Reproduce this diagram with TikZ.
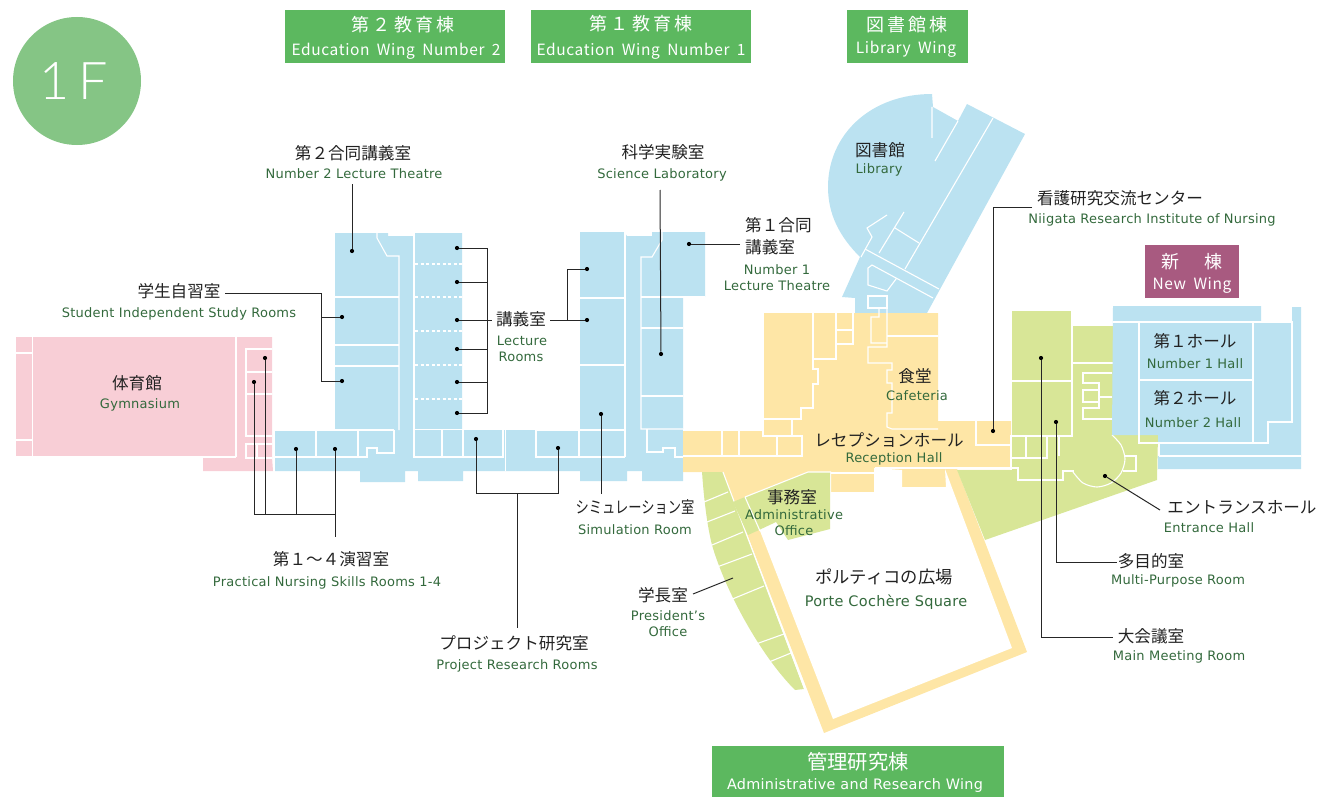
\documentclass[tikz,border=0pt]{standalone}
\usepackage{fontspec}
\setmainfont{DejaVu Sans}
\newfontfamily\jpf{Noto Sans CJK JP}
\newfontfamily\jpsp{Noto Sans CJK JP}[LetterSpace=17]
\newfontfamily\henf{Noto Sans CJK JP}[LetterSpace=4,WordSpace=1.8]
\newfontfamily\enf{DejaVu Sans}[LetterSpace=2]
\newfontfamily\lightf{Lato Light}
\definecolor{fblue}{HTML}{BBE2F1}
\definecolor{fpink}{HTML}{F8CED6}
\definecolor{fyel}{HTML}{FEE6A6}
\definecolor{fgrn}{HTML}{D8E697}
\definecolor{hgrn}{HTML}{5CB85F}
\definecolor{cgrn}{HTML}{85C585}
\definecolor{hpur}{HTML}{A85A80}
\definecolor{etxt}{HTML}{33693C}
\definecolor{jtxt}{HTML}{222222}
\tikzset{
  wl/.style={draw=white,line width=1.1pt,line join=miter},
  wd/.style={draw=white,line width=1.1pt,dash pattern=on 3pt off 2.5pt},
  lead/.style={draw=black!85,line width=1pt},
  dotmark/.style={circle,fill=black,inner sep=0pt,minimum size=4.2pt},
  jp/.style={inner sep=0pt,text=jtxt,font=\jpf\fontsize{16.6}{19}\selectfont},
  en/.style={inner sep=0pt,text=etxt,yshift=-1pt,font=\enf\fontsize{13}{16}\selectfont},
  hbox/.style={fill=hgrn,draw=none},
  hj/.style={inner sep=0pt,text=white,font=\jpsp\fontsize{18}{22}\selectfont},
  he/.style={inner sep=0pt,text=white,yshift=-2.5pt,font=\henf\fontsize{15.5}{18}\selectfont},
}
\begin{document}
\begin{tikzpicture}[x=1pt,y=-1pt]
\useasboundingbox (0,0) rectangle (1319,797);
% ---- heading boxes
\fill[cgrn] (77,81) circle[radius=64];
\node[inner sep=0pt,text=white,font=\lightf\fontsize{52}{54}\selectfont] (floorname) at (74,81) {1\hspace{9pt}F};
\fill[hbox] (285,10) rectangle (505,63);
\fill[hbox] (531,10) rectangle (751,63);
\fill[hbox] (847,10) rectangle (968,63);
\fill[hbox] (712,746) rectangle (1004,797);
\fill[hpur] (1145,245) rectangle (1239,298);
\node[hj] (h2j) at (403,25) {第２教育棟};
\node[he] (h2e) at (396,49) {Education Wing Number 2};
\node[hj] (h1j) at (641,24) {第１教育棟};
\node[he] (h1e) at (641,49) {Education Wing Number 1};
\node[hj] (hlj) at (907,25) {図書館棟};
\node[he] (hle) at (906,47) {Library Wing};
\node[hj,font=\jpf\fontsize{20.3}{22}\selectfont] (haj) at (858,762) {管理研究棟};
\node[en,text=white,font=\enf\fontsize{14.4}{18}\selectfont] (hae) at (855,785) {Administrative and Research Wing};
\node[hj] (nwj) at (1192,262) {新　棟};
\node[he] (nwe) at (1192,283) {New Wing};
% ---- pink gym
\fill[fpink] (16,337) -- (272,337) -- (272,457) -- (273,471) -- (203,471) -- (203,457) -- (16,457) -- cycle;
\draw[wl] (32.5,337) -- (32.5,457);
\draw[wl] (16,353) -- (32,353) (16,440) -- (32,440);
\draw[wl] (236,337) -- (236,457) (16,457) -- (236,457);
\draw[wl] (272,349) -- (246,349) -- (246,436) -- (272,436);
\draw[wl] (246,372) -- (272,372) (246,394) -- (272,394);
\draw[wl] (272,444) -- (246,444) -- (246,458) -- (272,458) (257,444) -- (257,458);
% ---- blue education wings
\fill[fblue] (275,431) -- (335,431) -- (335,233) -- (388,233) -- (388,236) -- (415,236) -- (415,233) -- (462,233) -- (462,430) -- (580,430) -- (580,232) -- (624,232) -- (627,236) -- (652,236) -- (652,232) -- (705,232) -- (705,297) -- (683,297) -- (683,481) -- (642,481) -- (642,471) -- (627,471) -- (627,481) -- (580,481) -- (580,471) -- (463,471) -- (463,481) -- (418,481) -- (418,471) -- (405,471) -- (405,482) -- (360,482) -- (360,471) -- (275,471) -- cycle;
\draw[wl] (377,233) -- (377,238) -- (387,256) -- (399,256) -- (399,430);
\draw[wl] (335,297) -- (399,297) (335,345) -- (399,345) (335,366) -- (399,366) (335,430) -- (394,430);
\draw[wl] (414,236) -- (414,457);
\draw[wd] (415,264) -- (462,264) (415,297) -- (462,297) (415,331) -- (462,331) (415,365) -- (462,365) (415,399) -- (462,399);
\draw[wl] (414,429.5) -- (504,429.5);
\draw[wl] (316,431) -- (316,457) (358,431) -- (358,457);
\draw[wl] (275,457) -- (367,457) -- (367,448) -- (377,448) -- (377,453) -- (394,453) -- (394,430);
\draw[wl] (413,457) -- (503,457) -- (503,430) (442,430) -- (442,457) (463,430) -- (463,457);
\draw[wl,line width=.6pt] (505,430) -- (505,471);
\draw[wl] (536,430) -- (536,457) -- (625,457) (579,430) -- (579,457) (536,430) -- (625,430);
\draw[wl] (625,232) -- (625,457);
\draw[wl] (580,298) -- (625,298) (580,365) -- (625,365);
\draw[wl] (662,232) -- (662,240) -- (652,257) -- (641,257) -- (641,429) -- (683,429);
\draw[wl] (641,297) -- (705,297) (641,328) -- (683,328) (641,396) -- (683,396);
\draw[wl] (647,429) -- (647,452) -- (663,452) -- (663,448) -- (675,448) -- (675,457) -- (683,457);
% ---- library
\fill[fblue] (842,297) -- (860,257) .. controls (840,237) and (828,215) .. (828,187) .. controls (828,135) and (870,94) .. (932,94) -- (933,107) -- (958,121) -- (967,104) -- (1025,134) -- (927,313) -- (855,313) -- (855,298) -- cycle;
\draw[wl] (932,107) -- (932,138) (958,121) -- (935,161) (993,118) -- (905,269);
\draw[wl] (887,215) -- (867,228) -- (872,237) -- (861,257);
\draw[wl] (904,212) -- (879,253) (895,228) -- (919,243) (865,249) -- (939,289);
\draw[wl] (933,298) -- (872,265) -- (868,268) -- (868,285) -- (887,291) -- (896,279);
\draw[wl] (868,296) -- (887,296) -- (887,308) -- (868,308) -- cycle;
% ---- yellow core and portico frame
\fill[fyel] (683,430) -- (764,430) -- (764,313) -- (938,313) -- (938,421) -- (1011,421) -- (1011,469) -- (957,469) -- (1027,652) -- (824,733) -- (723,472) -- (683,472) -- cycle;
\fill[white] (808,472) -- (831,472) -- (831,492) -- (874,492) -- (874,474) -- (875,468) -- (902,470) -- (902,487) -- (946,487) -- (945,469) -- (1012,648) -- (833,719) -- (748,500) -- cycle;
\draw[wl] (831,473) -- (875,473) -- (875,468);
\draw[wl] (813,313) -- (813,369) -- (818,369) -- (818,384) -- (813,384) -- (813,408) -- (801,408) -- (801,419) -- (764,419);
\draw[wl] (813,359) -- (836,359) -- (836,313) (836,330) -- (853,330) (853,313) -- (853,344) -- (836,344);
\draw[wl] (879,308) -- (879,317) -- (871,317) -- (871,343) -- (887,343) (887,308) -- (887,347) -- (868,347) -- (868,363) -- (892,363) -- (892,370) -- (887,370) -- (887,383) -- (892,383) -- (892,413) -- (887,413) -- (887,427) -- (892,429) -- (938,429);
\draw[wl] (887,336) -- (938,336);
\draw[wl] (763,419) -- (763,436) -- (802,436) -- (802,456) -- (683,456) (792,419) -- (792,436);
\draw[wl] (722,430) -- (722,456) (739,430) -- (739,456) (777,436) -- (777,456) (683,430) -- (763,430);
\draw[wl] (976,421) -- (976,445) -- (1011,445);
\draw[wl] (875,468) -- (1011,468);
% ---- green wedges
\fill[fgrn] (702,472) -- (723,472) -- (804,689) -- (795,690) .. controls (760,655) and (725,590) .. (712,545) .. controls (707,525) and (704,500) .. (702,472) -- cycle;
\draw[wl] (723,472) -- (805,690);
\draw[wl] (704,502) -- (728,492) (707,522) -- (735,511) (712,545) -- (743,532) (717,567) -- (752,554) (730,600) -- (764,586) (756,644) -- (784,634) (769,662) -- (791,653);
\fill[fgrn] (733,502) -- (745,497) -- (808,472) -- (830,472) -- (830,529) -- (788,540) -- (776,522) -- (759,530) -- (748,535) -- cycle;
\draw[wl] (745,497) -- (760,531) (745,497) -- (808,472) -- (831,472);
% ---- green east part
\fill[fgrn] (1012,311) -- (1072,311) -- (1072,326) -- (1113,326) -- (1113,435) -- (1158,435) -- (1157,480) -- (985,540) -- (957,470) -- (1012,470) -- cycle;
\draw[wl] (1012,381) -- (1072,381) (1072,311) -- (1072,436) -- (1011,436) -- (1011,470);
\draw[wl] (1073,363) -- (1113,363);
\draw[wl] (1112,373) -- (1083,373) -- (1083,383) -- (1099,383) -- (1099,390) -- (1083,390) -- (1083,402) -- (1099,402) -- (1099,408) -- (1083,408) -- (1083,419) -- (1112,419);
\draw[wl] (1099,390) -- (1099,402) (1099,397) -- (1112,397);
\draw[wl] (1011,458) -- (1047,458) -- (1047,436) (1026,436) -- (1026,458) (1059,436) -- (1059,456);
\draw[wl] (1011,468) -- (1018,468) -- (1018,480) -- (1063,480) -- (1063,471) -- (1074,471);
\draw[wl] plot[smooth] coordinates {(1073,472) (1083,483) (1097,487) (1111,483) (1121,473) (1125,459) (1121,445) (1112,435)};
\draw[wl] (1125,456) -- (1136,456) -- (1136,471) -- (1123,471);
% ---- blue new wing
\fill[fblue] (1113,306) -- (1261,306) -- (1261,322) -- (1292,322) -- (1292,307) -- (1301,307) -- (1301,469) -- (1158,469) -- (1158,435) -- (1112,435) -- cycle;
\draw[wl] (1113,322) -- (1292,322) -- (1292,422) -- (1268,422) -- (1268,443) -- (1139,443) -- (1139,322);
\draw[wl] (1253,322) -- (1253,443) (1139,380) -- (1253,380) (1159,456) -- (1301,456) (1159,443) -- (1159,456);
% ---- labels
\node[jp] (t1j) at (353,153) {第２合同講義室};
\node[en] (t1e) at (354,173) {Number 2 Lecture Theatre};
\node[jp] (t2j) at (663,152) {科学実験室};
\node[en] (t2e) at (662,174) {Science Laboratory};
\node[jp,anchor=west] (t3j) at (745,225) {第１合同};
\node[jp,anchor=west] (t3k) at (745,247) {講義室};
\node[en] (t3e) at (777,269) {Number 1};
\node[en] (t3f) at (777,285) {Lecture Theatre};
\node[jp] (t4j) at (880,150) {図書館};
\node[en] (t4e) at (879,169) {Library};
\node[jp] (t5j) at (1120,198) {看護研究交流センター};
\node[en] (t5e) at (1152,219) {Niigata Research Institute of Nursing};
\node[jp] (t6j) at (1195,341) {第１ホール};
\node[en] (t6e) at (1195,363) {Number 1 Hall};
\node[jp] (t7j) at (1195,398) {第２ホール};
\node[en] (t7e) at (1193,422) {Number 2 Hall};
\node[jp] (t8j) at (179,291) {学生自習室};
\node[en] (t8e) at (179,313) {Student Independent Study Rooms};
\node[jp] (t9j) at (137,383) {体育館};
\node[en] (t9e) at (140,404) {Gymnasium};
\node[jp] (t10j) at (521,319) {講義室};
\node[en] (t10e) at (522,340) {Lecture};
\node[en] (t10f) at (521,356) {Rooms};
\node[jp] (t11j) at (915,376) {食堂};
\node[en] (t11e) at (917,395) {Cafeteria};
\node[jp] (t12j) at (889,440) {レセプションホール};
\node[en] (t12e) at (894,458) {Reception Hall};
\node[jp] (t13j) at (792,497) {事務室};
\node[en] (t13e) at (794,514) {Administrative};
\node[en] (t13f) at (794,530) {Office};
\node[jp] (t14j) at (635,507) {\scalebox{0.8}[1]{シミュレーション室}};
\node[en] (t14e) at (635,529) {Simulation Room};
\node[jp] (t15j) at (331,559) {第１〜４演習室};
\node[en] (t15e) at (327,582) {Practical Nursing Skills Rooms 1-4};
\node[jp] (t16j) at (514,643) {プロジェクト研究室};
\node[en] (t16e) at (517,665) {Project Research Rooms};
\node[jp] (t17j) at (663,595) {学長室};
\node[en] (t17e) at (668,615) {President’s};
\node[en] (t17f) at (668,631) {Office};
\node[jp,font=\jpf\fontsize{17.3}{19}\selectfont] (t18j) at (884,577) {ポルティコの広場};
\node[en,font=\enf\fontsize{14.5}{18}\selectfont] (t18e) at (886,601) {Porte Cochère Square};
\node[jp] (t19j) at (1242,507) {エントランスホール};
\node[en] (t19e) at (1209,527) {Entrance Hall};
\node[jp] (t20j) at (1151,561) {多目的室};
\node[en] (t20e) at (1178,580) {Multi-Purpose Room};
\node[jp] (t21j) at (1151,636) {大会議室};
\node[en] (t21e) at (1179,656) {Main Meeting Room};
% ---- leader points
\foreach \n/\x/\y in {a/352/251, b1/342/317, b2/342/381, c1/457/248, c2/457/282, c3/457/320, c4/457/349, c5/457/382, c6/457/413, d1/587/269, d2/587/320, e/661/354, f/689/244, g/601/414, h1/476/439, h2/558/448, i1/254/382, i2/265/358, i3/296/449, i4/335/449, j/993/431, k/1056/422, l/1041/358, m/1105/476}
  \node[dotmark] (\n) at (\x,\y) {};
\coordinate (a0) at (352,184);
\coordinate (b0) at (225,293); \coordinate (b3) at (321,293); \coordinate (b4) at (321,381); \coordinate (b5) at (321,317);
\coordinate (c7) at (487,248); \coordinate (c8) at (487,413); \coordinate (c9) at (492,320); \coordinate (c10) at (487,282); \coordinate (c11) at (487,349); \coordinate (c12) at (487,382);
\coordinate (d0) at (550,320); \coordinate (d3) at (567,320); \coordinate (d4) at (567,269);
\coordinate (e0) at (660,190);
\coordinate (f0) at (740,244);
\coordinate (g0) at (601,494);
\coordinate (h3) at (476,493); \coordinate (h4) at (558,493); \coordinate (h5) at (517,493); \coordinate (h6) at (517,628);
\coordinate (i5) at (254,514); \coordinate (i6) at (265,514); \coordinate (i7) at (296,514); \coordinate (i8) at (335,514); \coordinate (i9) at (335,537);
\coordinate (j0) at (1032,207); \coordinate (j1) at (993,207);
\coordinate (k0) at (1056,562); \coordinate (k1) at (1117,562);
\coordinate (l0) at (1041,637); \coordinate (l1) at (1113,637);
\coordinate (m0) at (1160,510);
\coordinate (n0) at (693,594); \coordinate (n1) at (733,578);
\draw[lead] (a0) -- (a);
\draw[lead] (b0) -- (b3) -- (b4) -- (b2) (b5) -- (b1);
\draw[lead] (c1) -- (c7) -- (c8) -- (c6) (c2) -- (c10) (c3) -- (c9) (c4) -- (c11) (c5) -- (c12);
\draw[lead] (d0) -- (d2) (d3) -- (d4) -- (d1);
\draw[lead] (e0) -- (e);
\draw[lead] (f0) -- (f);
\draw[lead] (g0) -- (g);
\draw[lead] (h1) -- (h3) -- (h4) -- (h2) (h5) -- (h6);
\draw[lead] (i1) -- (i5) -- (i8) -- (i4) (i2) -- (i6) (i3) -- (i7) (i8) -- (i9);
\draw[lead] (j0) -- (j1) -- (j);
\draw[lead] (k) -- (k0) -- (k1);
\draw[lead] (l) -- (l0) -- (l1);
\draw[lead] (m) -- (m0);
\draw[lead] (n0) -- (n1);
\end{tikzpicture}
\end{document}
